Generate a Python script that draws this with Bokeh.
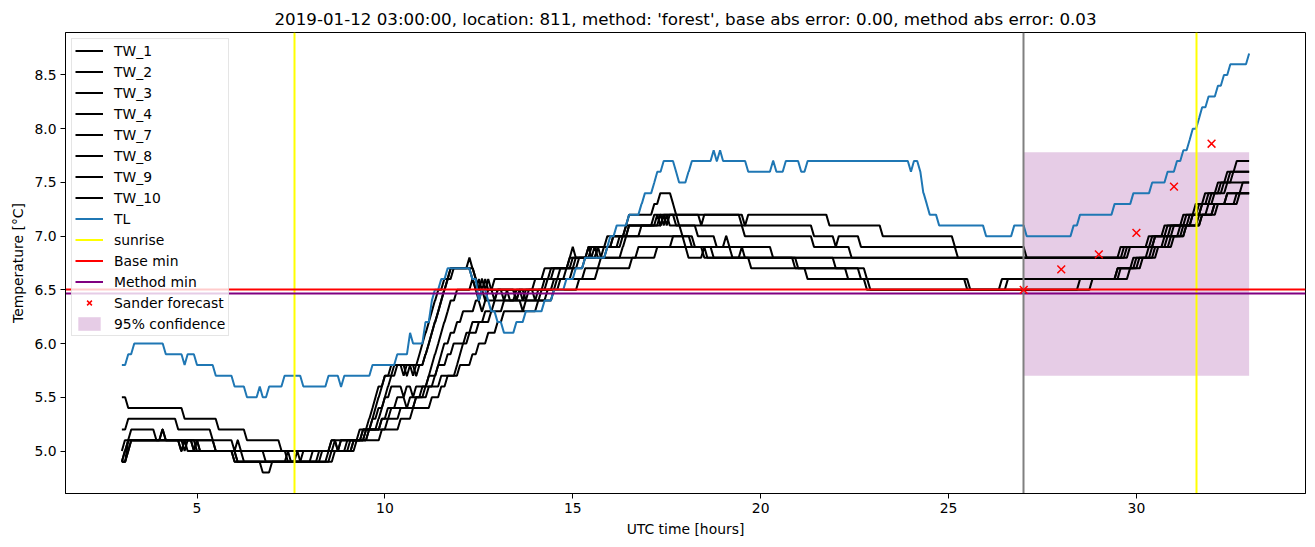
from bokeh.plotting import figure
from bokeh.models import Range1d, FixedTicker, NumeralTickFormatter, Legend, LegendItem
from bokeh.embed import file_html
from bokeh.resources import INLINE

# ---------------- data ----------------
title_text = ("2019-01-12 03:00:00, location: 811, method: 'forest', "
              "base abs error: 0.00, method abs error: 0.03")

tw_names = ["TW_1", "TW_2", "TW_3", "TW_4", "TW_7", "TW_8", "TW_9", "TW_10"]

# each series: (hour, value) at the sample where a new value is first reached
tw_1 = [(3.0, 5.5), (3.17, 5.4), (4.67, 5.3), (5.58, 5.2), (6.33, 5.1), (7.25, 5.0), (8.58, 5.1),
        (9.42, 5.2), (9.83, 5.3), (9.92, 5.4), (10.0, 5.5), (10.08, 5.6), (10.17, 5.7), (10.33, 5.8),
        (10.58, 5.7), (10.67, 5.8), (10.83, 5.7), (10.92, 5.8), (11.08, 5.9), (11.17, 6.0), (11.25, 6.1),
        (11.33, 6.2), (11.42, 6.3), (11.5, 6.4), (11.58, 6.5), (11.67, 6.6), (11.75, 6.7), (12.33, 6.6),
        (12.42, 6.5), (12.5, 6.6), (12.58, 6.5), (12.67, 6.6), (12.75, 6.5), (12.92, 6.6), (14.25, 6.7),
        (14.92, 6.8), (15.0, 6.9), (15.08, 6.8), (15.58, 6.9), (15.67, 6.8), (15.83, 6.9), (15.92, 7.0),
        (16.5, 7.1), (17.17, 7.2), (18.42, 7.1), (18.5, 7.2), (19.58, 7.1), (19.67, 7.2), (21.83, 7.1),
        (23.25, 7.0), (25.17, 6.9), (27.08, 6.8), (29.67, 6.9), (30.42, 7.0), (30.83, 7.1), (31.33, 7.2),
        (31.67, 7.3), (31.92, 7.4), (32.25, 7.5), (32.42, 7.6), (32.67, 7.7), (33.0, 7.7)]
tw_2 = [(3.0, 5.2), (3.17, 5.3), (4.5, 5.2), (5.42, 5.1), (6.0, 5.0), (6.08, 5.1), (6.17, 5.0),
        (7.42, 4.9), (8.5, 5.0), (9.08, 5.1), (9.5, 5.2), (9.67, 5.3), (9.75, 5.4), (9.83, 5.5),
        (9.92, 5.6), (10.0, 5.7), (10.25, 5.8), (10.5, 5.7), (10.58, 5.8), (10.75, 5.7), (10.83, 5.8),
        (11.08, 5.9), (11.17, 6.0), (11.25, 6.1), (11.33, 6.2), (11.42, 6.3), (11.5, 6.4), (11.58, 6.5),
        (11.67, 6.6), (11.83, 6.7), (12.42, 6.6), (12.5, 6.5), (12.58, 6.6), (12.67, 6.5), (12.75, 6.6),
        (12.83, 6.5), (13.17, 6.4), (13.25, 6.5), (13.5, 6.4), (13.58, 6.5), (14.5, 6.6), (14.67, 6.7),
        (15.0, 6.8), (15.67, 6.9), (16.08, 7.0), (16.42, 7.1), (17.25, 7.2), (17.33, 7.1), (17.42, 7.2),
        (19.5, 7.1), (21.42, 7.0), (22.0, 6.9), (22.08, 7.0), (22.67, 6.9), (25.25, 6.8), (29.75, 6.9),
        (30.5, 7.0), (30.92, 7.1), (31.42, 7.2), (31.75, 7.3), (32.0, 7.4), (32.33, 7.5), (32.58, 7.6),
        (33.0, 7.6)]
tw_3 = [(3.0, 5.0), (3.08, 5.1), (3.25, 5.2), (3.92, 5.1), (4.08, 5.2), (4.17, 5.1), (4.67, 5.0),
        (4.75, 5.1), (5.5, 5.0), (6.0, 4.9), (6.75, 4.8), (7.0, 4.9), (8.67, 5.0), (9.17, 5.1),
        (9.42, 5.2), (9.58, 5.3), (9.67, 5.4), (9.75, 5.5), (9.83, 5.6), (10.0, 5.7), (10.17, 5.8),
        (10.92, 5.9), (11.0, 6.0), (11.08, 6.1), (11.17, 6.2), (11.25, 6.3), (11.33, 6.4), (11.42, 6.5),
        (11.58, 6.6), (11.75, 6.7), (12.25, 6.8), (12.33, 6.7), (12.42, 6.6), (12.5, 6.5), (12.92, 6.4),
        (13.0, 6.5), (13.75, 6.4), (13.83, 6.5), (14.0, 6.4), (14.08, 6.5), (14.58, 6.6), (15.0, 6.7),
        (15.08, 6.8), (15.5, 6.9), (16.08, 7.0), (16.42, 7.1), (16.5, 7.2), (17.17, 7.3), (17.33, 7.4),
        (17.67, 7.3), (17.75, 7.2), (17.83, 7.1), (17.92, 7.0), (18.0, 6.9), (18.08, 6.8), (18.5, 6.9),
        (18.58, 6.8), (19.5, 6.9), (19.58, 6.8), (29.58, 6.9), (30.33, 7.0), (30.75, 7.1), (31.25, 7.2),
        (31.58, 7.3), (31.83, 7.4), (32.17, 7.5), (32.5, 7.6), (33.0, 7.6)]
tw_4 = [(3.0, 4.9), (3.08, 5.0), (3.17, 5.1), (4.92, 5.0), (5.0, 5.1), (5.08, 5.0), (6.08, 4.9),
        (8.08, 5.0), (8.58, 5.1), (8.75, 5.0), (8.83, 5.1), (9.33, 5.2), (9.67, 5.3), (9.83, 5.4),
        (10.0, 5.5), (10.17, 5.6), (10.5, 5.5), (10.58, 5.6), (10.75, 5.5), (10.83, 5.6), (11.17, 5.7),
        (11.25, 5.8), (11.33, 5.9), (11.42, 6.0), (11.5, 6.1), (11.58, 6.2), (11.67, 6.3), (11.75, 6.4),
        (11.92, 6.5), (12.33, 6.6), (12.42, 6.5), (12.5, 6.4), (12.58, 6.5), (12.67, 6.4), (12.75, 6.5),
        (13.33, 6.4), (14.17, 6.5), (14.25, 6.6), (14.83, 6.7), (15.33, 6.8), (15.42, 6.9), (15.5, 6.8),
        (15.67, 6.9), (15.75, 6.8), (16.33, 6.9), (16.42, 7.0), (16.5, 7.1), (17.33, 7.2), (17.42, 7.1),
        (17.5, 7.2), (17.58, 7.1), (19.58, 7.0), (21.42, 6.9), (22.42, 6.8), (29.83, 6.9), (30.5, 7.0),
        (31.0, 7.1), (31.5, 7.2), (31.75, 7.3), (32.08, 7.4), (32.42, 7.5), (33.0, 7.5)]
tw_7 = [(3.0, 4.9), (3.17, 5.0), (3.25, 5.1), (4.58, 5.0), (4.67, 5.1), (5.0, 5.0), (6.0, 4.9),
        (7.42, 5.0), (7.5, 4.9), (7.67, 5.0), (7.75, 4.9), (8.58, 5.0), (9.0, 5.1), (9.58, 5.2),
        (9.92, 5.3), (10.08, 5.4), (10.33, 5.5), (10.58, 5.4), (10.67, 5.5), (11.0, 5.6), (11.17, 5.7),
        (11.42, 5.8), (11.5, 5.9), (11.58, 6.0), (11.75, 6.1), (11.92, 6.2), (12.08, 6.3), (12.42, 6.4),
        (12.58, 6.3), (12.67, 6.4), (13.0, 6.5), (13.5, 6.4), (13.58, 6.5), (13.67, 6.4), (13.75, 6.5),
        (14.33, 6.6), (14.5, 6.7), (15.17, 6.8), (15.92, 6.9), (16.33, 7.0), (18.17, 6.9), (18.75, 6.8),
        (19.75, 6.7), (21.25, 6.6), (22.83, 6.5), (28.5, 6.6), (29.5, 6.7), (29.92, 6.8), (30.33, 6.9),
        (30.75, 7.0), (31.17, 7.1), (31.5, 7.2), (31.92, 7.3), (32.42, 7.4), (33.0, 7.4)]
tw_8 = [(3.0, 4.9), (3.17, 5.1), (4.58, 5.0), (4.67, 5.1), (4.75, 5.0), (5.0, 5.1), (5.08, 5.0),
        (6.25, 4.9), (8.25, 5.0), (9.17, 5.1), (9.5, 5.2), (10.08, 5.3), (10.42, 5.4), (10.83, 5.5),
        (11.17, 5.6), (11.5, 5.7), (11.92, 5.8), (12.0, 5.9), (12.08, 6.0), (12.25, 6.1), (12.5, 6.2),
        (12.83, 6.3), (13.17, 6.4), (13.67, 6.3), (13.75, 6.4), (14.33, 6.5), (14.67, 6.6), (15.33, 6.7),
        (15.75, 6.8), (16.75, 6.9), (18.5, 6.8), (20.92, 6.7), (22.33, 6.6), (22.92, 6.5), (28.83, 6.6),
        (29.83, 6.7), (30.17, 6.8), (30.58, 6.9), (31.0, 7.0), (31.33, 7.1), (31.75, 7.2), (32.08, 7.3),
        (32.67, 7.4), (33.0, 7.4)]
tw_9 = [(3.0, 4.9), (3.17, 5.0), (3.25, 5.1), (4.08, 5.2), (4.17, 5.1), (5.5, 5.0), (6.83, 4.9),
        (7.83, 5.0), (8.67, 5.1), (8.75, 5.0), (8.83, 5.1), (9.58, 5.2), (9.92, 5.3), (10.17, 5.4),
        (10.83, 5.5), (11.08, 5.6), (11.33, 5.7), (11.42, 5.8), (11.67, 5.9), (11.83, 6.0), (12.17, 6.1),
        (12.33, 6.2), (12.67, 6.3), (12.92, 6.4), (13.5, 6.5), (14.0, 6.6), (14.42, 6.7), (14.92, 6.8),
        (15.42, 6.9), (16.25, 7.0), (16.83, 7.1), (17.42, 7.2), (17.5, 7.1), (17.58, 7.2), (17.75, 7.1),
        (18.33, 7.0), (18.83, 6.9), (19.08, 7.0), (19.17, 6.9), (20.33, 6.8), (22.0, 6.7), (22.67, 6.6),
        (25.5, 6.5), (26.42, 6.6), (29.5, 6.7), (30.0, 6.8), (30.42, 6.9), (30.83, 7.0), (31.25, 7.1),
        (31.67, 7.2), (32.08, 7.3), (32.42, 7.4), (32.83, 7.5), (33.0, 7.5)]
tw_10 = [(3.0, 4.9), (3.08, 5.0), (3.17, 5.1), (4.92, 5.0), (6.08, 4.9), (8.33, 5.0), (9.25, 5.1),
         (9.92, 5.2), (10.42, 5.3), (10.75, 5.4), (11.25, 5.5), (11.5, 5.6), (11.67, 5.7), (12.0, 5.8),
         (12.33, 5.9), (12.5, 6.0), (12.75, 6.1), (13.0, 6.2), (13.17, 6.3), (14.08, 6.4), (14.5, 6.5),
         (15.17, 6.6), (15.67, 6.7), (16.58, 6.8), (17.25, 6.9), (17.67, 7.0), (18.25, 6.9), (19.25, 6.8),
         (21.0, 6.7), (22.83, 6.6), (25.58, 6.5), (26.58, 6.6), (29.58, 6.7), (30.08, 6.8), (30.5, 6.9),
         (30.92, 7.0), (31.33, 7.1), (31.75, 7.2), (32.17, 7.3), (32.75, 7.4), (33.0, 7.4)]
tw_series = [tw_1, tw_2, tw_3, tw_4, tw_7, tw_8, tw_9, tw_10]

tl = [(3.0, 5.8), (3.17, 5.9), (3.33, 6.0), (4.17, 5.9), (4.67, 5.8), (4.75, 5.9), (5.0, 5.8),
      (5.5, 5.7), (6.0, 5.6), (6.33, 5.5), (6.67, 5.6), (6.75, 5.5), (6.92, 5.6), (7.33, 5.7),
      (7.83, 5.6), (8.5, 5.7), (8.83, 5.6), (8.92, 5.7), (9.67, 5.8), (10.33, 5.9), (10.67, 6.1),
      (10.75, 6.0), (11.08, 6.2), (11.25, 6.4), (11.33, 6.5), (11.5, 6.6), (11.67, 6.7), (12.33, 6.6),
      (12.5, 6.4), (12.58, 6.5), (12.75, 6.4), (12.83, 6.3), (13.0, 6.2), (13.17, 6.1), (13.5, 6.2),
      (13.75, 6.3), (14.25, 6.4), (14.5, 6.5), (14.83, 6.6), (15.08, 6.7), (15.33, 6.8), (15.92, 6.9),
      (16.0, 7.0), (16.17, 7.1), (16.5, 7.2), (16.83, 7.3), (16.92, 7.4), (17.17, 7.5), (17.25, 7.6),
      (17.42, 7.7), (17.75, 7.6), (17.83, 7.5), (18.08, 7.6), (18.17, 7.7), (18.75, 7.8), (18.83, 7.7),
      (18.92, 7.8), (19.0, 7.7), (19.67, 7.6), (20.33, 7.7), (20.42, 7.6), (20.67, 7.7), (21.08, 7.6),
      (21.25, 7.7), (24.0, 7.6), (24.08, 7.7), (24.25, 7.6), (24.33, 7.4), (24.42, 7.3), (24.5, 7.2),
      (24.75, 7.1), (26.0, 7.0), (26.75, 7.1), (27.08, 7.0), (28.33, 7.1), (28.5, 7.2), (29.42, 7.3),
      (29.92, 7.4), (30.42, 7.5), (30.83, 7.6), (31.08, 7.7), (31.25, 7.8), (31.42, 7.9), (31.5, 8.0),
      (31.67, 8.1), (31.75, 8.2), (31.92, 8.3), (32.17, 8.4), (32.33, 8.5), (32.5, 8.6), (33.0, 8.7)]

sunrise_hours = [7.6, 31.6]
forecast_start = [27.0]
base_min = [6.5]
method_min = [6.47]
sander_hours = [27, 28, 29, 30, 31, 32]
sander_values = [6.5, 6.69, 6.83, 7.03, 7.46, 7.86]
conf_hours = [27.0, 33.0]
conf_low = [5.70, 5.70]
conf_high = [7.78, 7.78]

x_ticks = [5, 10, 15, 20, 25, 30]
y_ticks = [5.0, 5.5, 6.0, 6.5, 7.0, 7.5, 8.0, 8.5]
SAMPLE = 1.0 / 12.0   # 5-minute sampling
NAN = float("nan")


def step_line(series):
    """Vertices of a sampled series: the value holds until the sample before a change."""
    xs, ys = [series[0][0]], [series[0][1]]
    for t, v in series[1:]:
        if v != ys[-1] and t - SAMPLE > xs[-1]:
            xs.append(t - SAMPLE)
            ys.append(ys[-1])
        xs.append(t)
        ys.append(v)
    return xs, ys


# ---------------- figure ----------------
FONT = "DejaVu Sans"
p = figure(width=1315, height=547, x_range=Range1d(1.5, 34.5), y_range=Range1d(4.605, 8.895),
           output_backend="svg", toolbar_location=None, title=title_text,
           min_border_left=65, min_border_right=10, min_border_top=32, min_border_bottom=54)

p.title.align = "center"
p.title.text_font = FONT
p.title.text_font_size = "16.7px"
p.title.text_font_style = "normal"
p.title.text_color = "black"
p.title.standoff = 7

p.grid.visible = False
p.outline_line_color = "black"
p.outline_line_width = 1
p.outline_line_alpha = 1.0

p.xaxis.ticker = FixedTicker(ticks=x_ticks)
p.yaxis.ticker = FixedTicker(ticks=y_ticks)
p.yaxis.formatter = NumeralTickFormatter(format="0.0")
p.xaxis.axis_label = "UTC time [hours]"
p.yaxis.axis_label = "Temperature [°C]"
for ax in (p.xaxis, p.yaxis):
    ax.minor_tick_line_color = None
    ax.major_tick_in = 0
    ax.major_tick_out = 5
    ax.major_tick_line_color = "black"
    ax.axis_line_color = "black"
    ax.major_label_text_font = FONT
    ax.major_label_text_font_size = "13.9px"
    ax.major_label_text_color = "black"
    ax.major_label_standoff = 4
    ax.axis_label_text_font = FONT
    ax.axis_label_text_font_size = "13.9px"
    ax.axis_label_text_font_style = "normal"
    ax.axis_label_text_color = "black"
p.xaxis.axis_label_standoff = 5
p.yaxis.axis_label_standoff = 5

# confidence band (drawn below the lines)
r_conf = p.varea(x=conf_hours, y1=conf_low, y2=conf_high, fill_color="purple", fill_alpha=0.2)

tw_renderers = []
for s in tw_series:
    xs, ys = step_line(s)
    tw_renderers.append(p.line(xs, ys, line_color="black", line_width=2))

xs, ys = step_line(tl)
r_tl = p.line(xs, ys, line_color="#1f77b4", line_width=2)

p.vspan(x=sunrise_hours, line_color="yellow", line_width=2)
p.hspan(y=base_min, line_color="red", line_width=2)
p.hspan(y=method_min, line_color="purple", line_width=2)
p.vspan(x=forecast_start, line_color="grey", line_width=2)

r_sander = p.scatter(sander_hours, sander_values, marker="x", size=11, line_color="red", line_width=1.5)

# legend-only renderers (a single NaN point: nothing drawn in the plot)
r_sun = p.line(x=[NAN], y=[NAN], line_color="yellow", line_width=2)
r_base = p.line(x=[NAN], y=[NAN], line_color="red", line_width=2)
r_meth = p.line(x=[NAN], y=[NAN], line_color="purple", line_width=2)

items = [LegendItem(label=n, renderers=[r]) for n, r in zip(tw_names, tw_renderers)]
items += [LegendItem(label="TL", renderers=[r_tl]),
          LegendItem(label="sunrise", renderers=[r_sun]),
          LegendItem(label="Base min", renderers=[r_base]),
          LegendItem(label="Method min", renderers=[r_meth]),
          LegendItem(label="Sander forecast", renderers=[r_sander]),
          LegendItem(label="95% confidence", renderers=[r_conf])]

legend = Legend(items=items, location="top_left")
legend.margin = 6
legend.padding = 3
legend.spacing = 4
legend.glyph_width = 28
legend.glyph_height = 17
legend.label_height = 17
legend.label_standoff = 11
legend.label_text_font = FONT
legend.label_text_font_size = "13.9px"
legend.label_text_color = "black"
legend.border_line_color = "#cccccc"
legend.border_line_width = 1
legend.background_fill_alpha = 0.8
p.add_layout(legend)

with open("out.html", "w") as f:
    f.write(file_html(p, INLINE))
